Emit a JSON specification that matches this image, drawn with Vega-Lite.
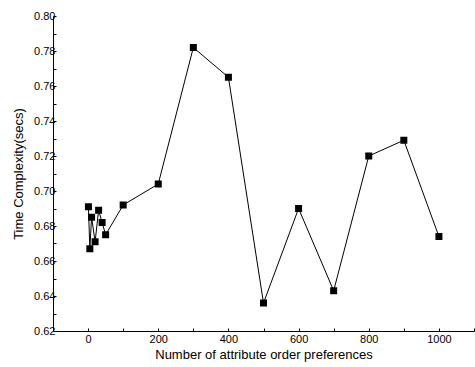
{
  "$schema": "https://vega.github.io/schema/vega-lite/v6.json",
  "width": 421,
  "height": 315,
  "autosize": "none",
  "padding": {"left": 53, "top": 16, "right": 1, "bottom": 36},
  "background": "white",
  "config": {
    "view": {"stroke": null},
    "font": "Liberation Sans",
    "axis": {
      "domainColor": "black",
      "domainWidth": 1,
      "tickColor": "black",
      "labelColor": "black",
      "titleColor": "black",
      "labelFont": "Liberation Sans",
      "titleFont": "Liberation Sans",
      "labelFontSize": 11,
      "titleFontSize": 13,
      "titleFontWeight": "normal",
      "grid": false
    }
  },
  "data": {
    "values": [
      {"n": 1, "t": 0.691},
      {"n": 5, "t": 0.667},
      {"n": 10, "t": 0.685},
      {"n": 20, "t": 0.671},
      {"n": 30, "t": 0.689},
      {"n": 40, "t": 0.682},
      {"n": 50, "t": 0.675},
      {"n": 100, "t": 0.692},
      {"n": 200, "t": 0.704},
      {"n": 300, "t": 0.782},
      {"n": 400, "t": 0.765},
      {"n": 500, "t": 0.636},
      {"n": 600, "t": 0.690},
      {"n": 700, "t": 0.643},
      {"n": 800, "t": 0.720},
      {"n": 900, "t": 0.729},
      {"n": 1000, "t": 0.674}
    ]
  },
  "encoding": {
    "x": {
      "field": "n",
      "type": "quantitative",
      "scale": {"domain": [-100, 1100], "nice": false, "zero": false},
      "axis": {
        "title": "Number of attribute order preferences",
        "values": [0, 100, 200, 300, 400, 500, 600, 700, 800, 900, 1000, 1100],
        "labelExpr": "datum.value % 200 == 0 && datum.value <= 1000 ? format(datum.value, 'd') : ''",
        "tickSize": -3,
        "labelPadding": 5,
        "titlePadding": 4
      }
    },
    "y": {
      "field": "t",
      "type": "quantitative",
      "scale": {"domain": [0.62, 0.8], "nice": false, "zero": false},
      "axis": {
        "title": "Time Complexity(secs)",
        "values": [0.62, 0.63, 0.64, 0.65, 0.66, 0.67, 0.68, 0.69, 0.7, 0.71, 0.72, 0.73, 0.74, 0.75, 0.76, 0.77, 0.78, 0.79, 0.8],
        "labelExpr": "round(datum.value * 100) % 2 == 0 ? format(datum.value, '.2f') : ''",
        "tickSize": -3,
        "labelPadding": 1,
        "titlePadding": 8
      }
    }
  },
  "layer": [
    {"mark": {"type": "line", "color": "black", "strokeWidth": 1}},
    {"mark": {"type": "point", "shape": "square", "filled": true, "color": "black", "opacity": 1, "size": 49}}
  ]
}
